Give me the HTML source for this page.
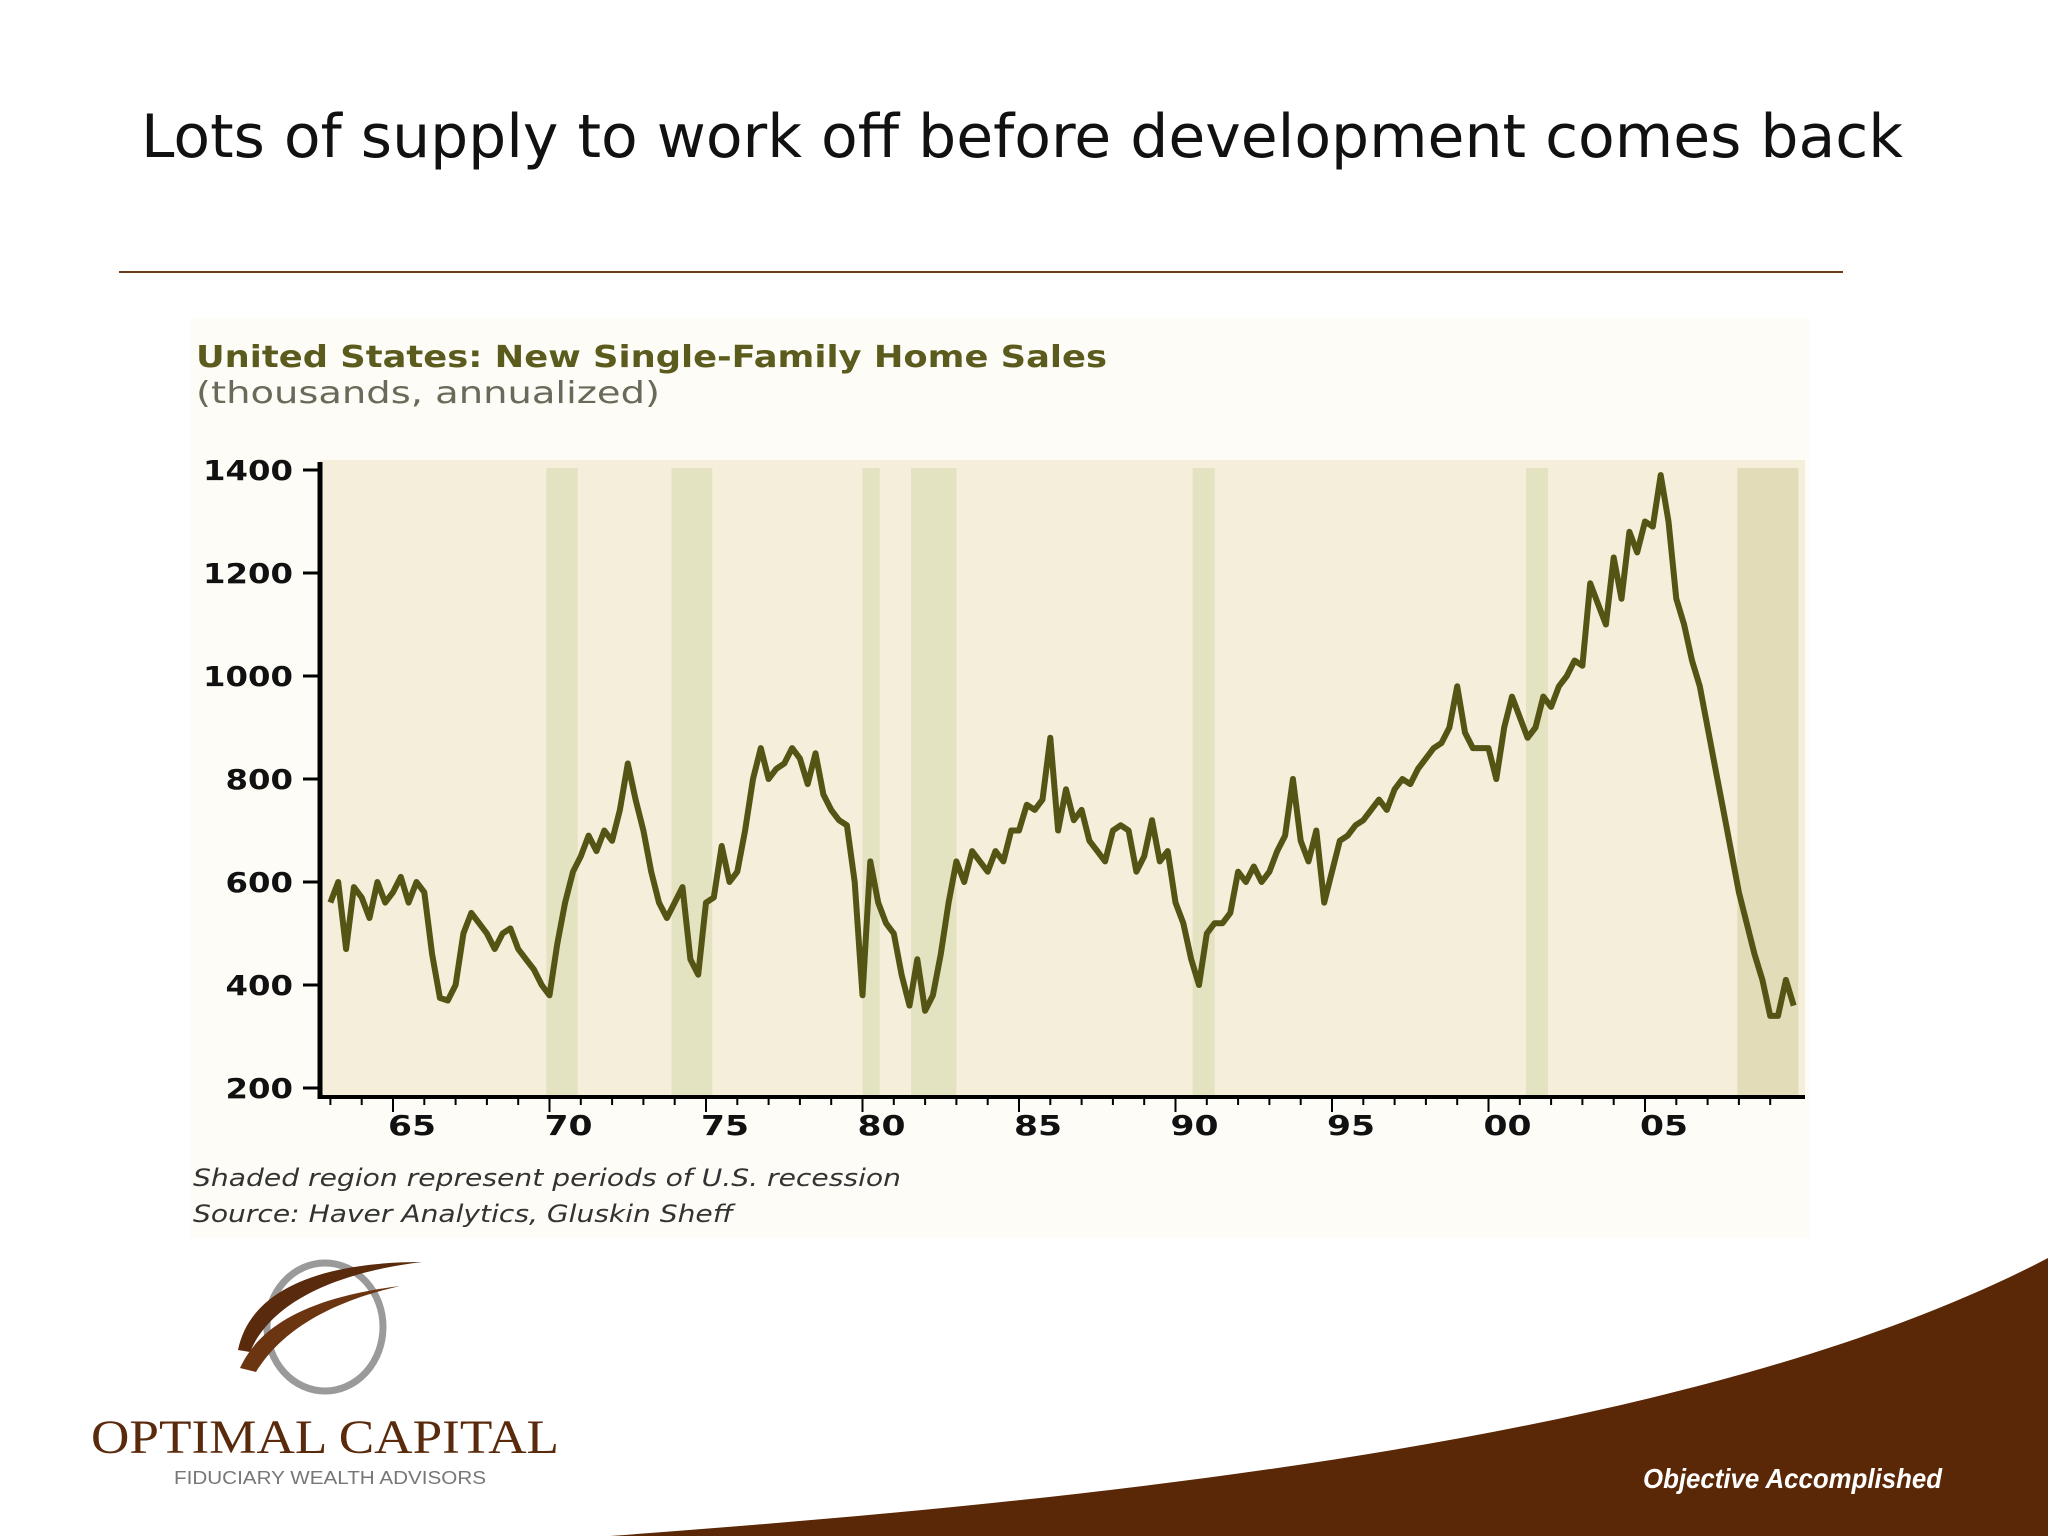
<!DOCTYPE html>
<html><head><meta charset="utf-8"><style>
html,body{margin:0;padding:0;background:#fff;}
svg{display:block;}
text{font-family:"Liberation Sans","DejaVu Sans",sans-serif;}
</style></head><body>
<svg id="s" width="2048" height="1536" viewBox="0 0 2048 1536">
<rect x="0" y="0" width="2048" height="1536" fill="#ffffff"/>
<text x="141" y="157" font-size="60" fill="#111" textLength="1762" lengthAdjust="spacingAndGlyphs" style="font-family:'DejaVu Sans',sans-serif">Lots of supply to work off before development comes back</text>
<line x1="119" y1="272" x2="1843" y2="272" stroke="#6b3a1a" stroke-width="2"/>
<rect x="190" y="318" width="1620" height="920" fill="#fdfcf6"/>
<text x="196" y="367" font-size="30" font-weight="bold" fill="#5b5b1e" textLength="911" lengthAdjust="spacingAndGlyphs" style="font-family:'DejaVu Sans',sans-serif">United States: New Single-Family Home Sales</text>
<text x="196" y="403" font-size="30" fill="#6a6a5a" textLength="464" lengthAdjust="spacingAndGlyphs" style="font-family:'DejaVu Sans',sans-serif">(thousands, annualized)</text>
<g id="plot"></g>
<text x="193" y="1186" font-size="24" font-style="italic" fill="#333" textLength="708" lengthAdjust="spacingAndGlyphs" style="font-family:'DejaVu Sans',sans-serif">Shaded region represent periods of U.S. recession</text>
<text x="193" y="1222" font-size="24" font-style="italic" fill="#333" textLength="540" lengthAdjust="spacingAndGlyphs" style="font-family:'DejaVu Sans',sans-serif">Source: Haver Analytics, Gluskin Sheff</text>
<g>
<ellipse cx="325" cy="1327" rx="58" ry="64" fill="none" stroke="#9a9a9a" stroke-width="7"/>
<path d="M238,1350 C250,1290 320,1262 422,1262 C340,1272 272,1300 250,1352 Z" fill="#5a2a0c"/>
<path d="M240,1368 C262,1320 320,1296 400,1286 C330,1302 282,1330 256,1372 Z" fill="#6b3512"/>
<text x="91" y="1453" font-size="48" fill="#5a2a0c" textLength="468" lengthAdjust="spacingAndGlyphs" style="font-family:'Liberation Serif',serif">OPTIMAL CAPITAL</text>
<text x="174" y="1484" font-size="18" fill="#777" textLength="312" lengthAdjust="spacingAndGlyphs">FIDUCIARY WEALTH ADVISORS</text>
</g>
<path d="M610,1536 C1100,1500 1700,1440 2048,1258 L2048,1536 Z" fill="#5a2806"/>
<text x="1643" y="1488" font-size="28" font-weight="bold" font-style="italic" fill="#fff" textLength="299" lengthAdjust="spacingAndGlyphs">Objective Accomplished</text>
</svg>
<script>
const startYear = 1963.0;
const stepYears = 0.25;
const sales = [
560,600,470,590, 570,530,600,560, 580,610,560,600, 580,460,375,370,
400,500,540,520, 500,470,500,510, 470,450,430,400, 380,480,560,620,
650,690,660,700, 680,740,830,760, 700,620,560,530, 560,590,450,420,
560,570,670,600, 620,700,800,860, 800,820,830,860, 840,790,850,770,
740,720,710,600, 380,640,560,520, 500,420,360,450, 350,380,460,560,
640,600,660,640, 620,660,640,700, 700,750,740,760, 880,700,780,720,
740,680,660,640, 700,710,700,620, 650,720,640,660, 560,520,450,400,
500,520,520,540, 620,600,630,600, 620,660,690,800, 680,640,700,560,
620,680,690,710, 720,740,760,740, 780,800,790,820, 840,860,870,900,
980,890,860,860, 860,800,900,960, 920,880,900,960, 940,980,1000,1030,
1020,1180,1140,1100, 1230,1150,1280,1240, 1300,1290,1390,1300, 1150,1100,1030,980,
900,820,740,660, 580,520,460,410, 340,340,410,360
];
const recessionStarts = [1969.9, 1973.9, 1980.0, 1981.55, 1990.55, 2001.2, 2007.95];
const recessionEnds   = [1970.9, 1975.2, 1980.55, 1983.0, 1991.25, 2001.9, 2009.9];
const yTicks = [200,400,600,800,1000,1200,1400];
const xLabelYears = [1965,1970,1975,1980,1985,1990,1995,2000,2005];
const xLabels = ["65","70","75","80","85","90","95","00","05"];

const NS="http://www.w3.org/2000/svg";
const plot=document.getElementById('plot');
function X(yr){return 393+(yr-1965)*31.3;}
function Y(v){return 1088-(v-200)*0.515;}
function mk(tag,attrs){const e=document.createElementNS(NS,tag);for(const k in attrs)e.setAttribute(k,attrs[k]);plot.appendChild(e);return e;}

let bg=mk('rect',{x:320,y:460,width:1485,height:637,fill:'#f5eedb'});



recessionStarts.forEach((s,i)=>{
  const r=mk('rect',{x:X(s),y:Y(1400)-2,width:X(recessionEnds[i])-X(s),height:Y(200)-Y(1400)+10,fill:i===6?'#e2dcb9':'#e3e2c1'});
  
  
});

let d='';
sales.forEach((v,i)=>{const yr=startYear+i*stepYears;d+=(i?'L':'M')+X(yr).toFixed(1)+','+Y(v).toFixed(1);});
const line=mk('path',{d:d,fill:'none',stroke:'#545414','stroke-width':6,'stroke-linejoin':'round'});



const ya=mk('line',{x1:320,y1:462,x2:320,y2:1099,stroke:'#000','stroke-width':5});


const xa=mk('line',{x1:318,y1:1097,x2:1805,y2:1097,stroke:'#000','stroke-width':4});



yTicks.forEach(v=>{
  const t=mk('line',{x1:303,y1:Y(v),x2:320,y2:Y(v),stroke:'#000','stroke-width':3});
  
  
  const s=String(v);
  const l=mk('text',{x:293,y:Y(v)+10,'font-size':28,'font-weight':'bold','text-anchor':'end',fill:'#111',textLength:s.length*22.5,lengthAdjust:'spacingAndGlyphs',style:"font-family:'DejaVu Sans',sans-serif"});
  l.textContent=s;
  
  
});
for(let yr=1963;yr<=2009;yr++){
  const major=(yr%5===0);
  const t=mk('line',{x1:X(yr),y1:1097,x2:X(yr),y2:major?1112:1105,stroke:'#000','stroke-width':2});
  
  
}
xLabelYears.forEach((yr,i)=>{
  const l=mk('text',{x:X(yr)+19,y:1135,'font-size':28,'font-weight':'bold','text-anchor':'middle',fill:'#111',textLength:48,lengthAdjust:'spacingAndGlyphs',style:"font-family:'DejaVu Sans',sans-serif"});
  l.textContent=xLabels[i];
  
  
});
</script>
</body></html>
